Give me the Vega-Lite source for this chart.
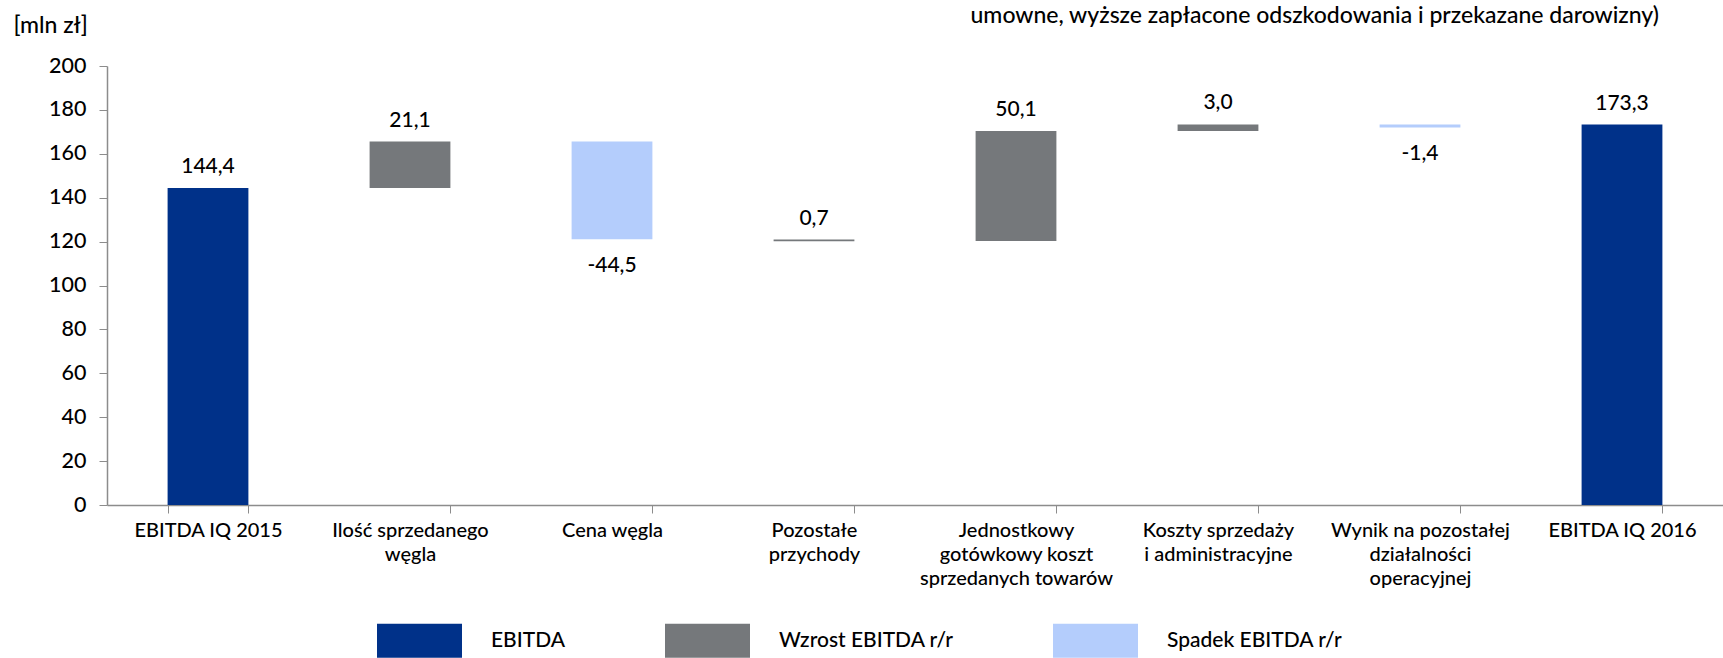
{
  "$schema": "https://vega.github.io/schema/vega-lite/v6.json",
  "width": 1616,
  "height": 439,
  "autosize": {"type": "none"},
  "padding": {"left": 107, "top": 66, "right": 0, "bottom": 153},
  "background": "white",
  "config": {"view": {"stroke": null}, "font": "Lato"},
  "title": {
    "text": "umowne, wyższe zapłacone odszkodowania i przekazane darowizny)",
    "anchor": "end",
    "fontSize": 23,
    "font": "Lato",
    "fontWeight": 500,
    "color": "#000000",
    "baseline": "alphabetic",
    "offset": -32,
    "dx": -64
  },
  "data": {
    "values": [
      {"cat": "EBITDA IQ 2015", "type": "EBITDA", "start": 0, "end": 144.4, "label": "144,4"},
      {"cat": "Ilość sprzedanego węgla", "type": "Wzrost EBITDA r/r", "start": 144.4, "end": 165.6, "label": "21,1"},
      {"cat": "Cena węgla", "type": "Spadek EBITDA r/r", "start": 165.6, "end": 121.1, "label": "-44,5"},
      {"cat": "Pozostałe przychody", "type": "Wzrost EBITDA r/r", "start": 120.2, "end": 120.9, "label": "0,7"},
      {"cat": "Jednostkowy gotówkowy koszt sprzedanych towarów", "type": "Wzrost EBITDA r/r", "start": 120.3, "end": 170.4, "label": "50,1"},
      {"cat": "Koszty sprzedaży i administracyjne", "type": "Wzrost EBITDA r/r", "start": 170.4, "end": 173.4, "label": "3,0"},
      {"cat": "Wynik na pozostałej działalności operacyjnej", "type": "Spadek EBITDA r/r", "start": 173.4, "end": 172.0, "label": "-1,4"},
      {"cat": "EBITDA IQ 2016", "type": "EBITDA", "start": 0, "end": 173.3, "label": "173,3"}
    ]
  },
  "layer": [
    {
      "mark": {"type": "bar"},
      "encoding": {
        "x": {
          "field": "cat",
          "type": "nominal",
          "sort": null,
          "scale": {
            "domain": ["EBITDA IQ 2015", "Ilość sprzedanego węgla", "Cena węgla", "Pozostałe przychody", "Jednostkowy gotówkowy koszt sprzedanych towarów", "Koszty sprzedaży i administracyjne", "Wynik na pozostałej działalności operacyjnej", "EBITDA IQ 2016"],
            "paddingInner": 0.6,
            "paddingOuter": 0.3
          },
          "axis": {
            "title": null,
            "labelAngle": 0,
            "tickBand": "extent",
            "tickSize": 8,
            "tickColor": "#8c8c8c",
            "domainColor": "#8c8c8c",
            "domainWidth": 1.5,
            "labelFont": "Lato",
            "labelFontSize": 20,
            "labelFontWeight": 500,
            "labelColor": "#000000",
            "labelPadding": 7,
            "labelLineHeight": 24,
            "labelBaseline": "top",
            "labelLimit": 0,
            "grid": false,
            "labelExpr": "datum.value == 'Ilość sprzedanego węgla' ? ['Ilość sprzedanego', 'węgla'] : datum.value == 'Pozostałe przychody' ? ['Pozostałe', 'przychody'] : datum.value == 'Jednostkowy gotówkowy koszt sprzedanych towarów' ? ['Jednostkowy', 'gotówkowy koszt', 'sprzedanych towarów'] : datum.value == 'Koszty sprzedaży i administracyjne' ? ['Koszty sprzedaży', 'i administracyjne'] : datum.value == 'Wynik na pozostałej działalności operacyjnej' ? ['Wynik na pozostałej', 'działalności', 'operacyjnej'] : datum.value"
          }
        },
        "y": {
          "field": "start",
          "type": "quantitative",
          "scale": {"domain": [0, 200], "nice": false},
          "axis": {
            "values": [0, 20, 40, 60, 80, 100, 120, 140, 160, 180, 200],
            "title": "[mln zł]",
            "titleAngle": 0,
            "titleX": -94,
            "titleY": -41,
            "titleAlign": "left",
            "titleBaseline": "middle",
            "titleFont": "Lato",
            "titleFontSize": 23,
            "titleFontWeight": 500,
            "titleColor": "#000000",
            "labelFont": "Lato",
            "labelFontSize": 21.5,
            "labelFontWeight": 500,
            "labelColor": "#000000",
            "labelPadding": 13,
            "tickSize": 8,
            "tickColor": "#8c8c8c",
            "domainColor": "#8c8c8c",
            "domainWidth": 1.5,
            "grid": false
          }
        },
        "y2": {"field": "end"},
        "color": {
          "field": "type",
          "type": "nominal",
          "scale": {
            "domain": ["EBITDA", "Wzrost EBITDA r/r", "Spadek EBITDA r/r"],
            "range": ["#003189", "#75787b", "#b4cdfc"]
          },
          "legend": {
            "orient": "none",
            "legendX": 270,
            "legendY": 532,
            "direction": "horizontal",
            "title": null,
            "symbolType": "M-1,-0.4H1V0.4H-1Z",
            "symbolSize": 7225,
            "symbolStrokeWidth": 0,
            "symbolOpacity": 1,
            "labelFont": "Lato",
            "labelFontSize": 21,
            "labelFontWeight": 500,
            "labelColor": "#000000",
            "labelOffset": 29,
            "columnPadding": 99,
            "labelLimit": 0
          }
        }
      }
    },
    {
      "transform": [{"filter": "datum.type != 'Spadek EBITDA r/r'"}],
      "mark": {"type": "text", "baseline": "alphabetic", "dy": -15, "fontSize": 21, "fontWeight": 500, "font": "Lato", "color": "#000000"},
      "encoding": {
        "x": {"field": "cat", "type": "nominal", "sort": null},
        "y": {"field": "end", "type": "quantitative"},
        "text": {"field": "label"}
      }
    },
    {
      "transform": [{"filter": "datum.type == 'Spadek EBITDA r/r'"}],
      "mark": {"type": "text", "baseline": "top", "dy": 16, "fontSize": 21, "fontWeight": 500, "font": "Lato", "color": "#000000"},
      "encoding": {
        "x": {"field": "cat", "type": "nominal", "sort": null},
        "y": {"field": "end", "type": "quantitative"},
        "text": {"field": "label"}
      }
    }
  ]
}
